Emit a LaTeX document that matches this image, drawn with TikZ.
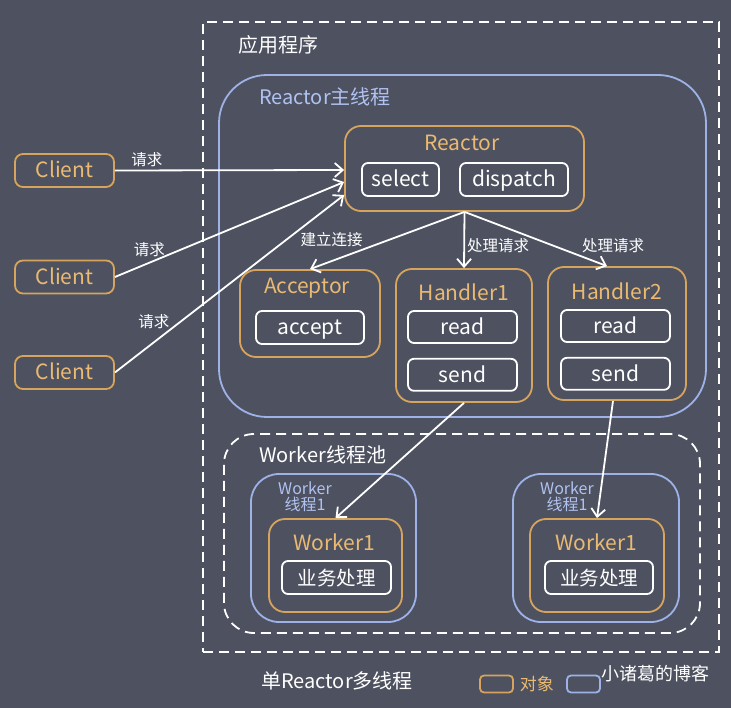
\documentclass[tikz,border=0pt]{standalone}
\usepackage{fontspec}
\setmainfont{Noto Sans CJK SC}
\usepackage{tikz}
\usetikzlibrary{arrows.meta}
\usetikzlibrary{positioning}
\usepackage{xcolor}

\definecolor{slatebg}{RGB}{78,82,96}
\definecolor{objline}{RGB}{214,164,92}
\definecolor{objtext}{RGB}{234,186,114}
\definecolor{thrline}{RGB}{158,178,232}
\definecolor{thrtext}{RGB}{176,194,242}

\newcommand{\pxfont}[1]{\fontsize{#1pt}{#1pt}\selectfont}

\begin{document}
\begin{tikzpicture}[x=1pt,y=-1pt,->,>={Straight Barb[length=8pt,width=14pt]},line width=1.8pt,
  every edge/.append style={draw=white},
  dashframe/.style={draw=white,dash pattern=on 10pt off 6pt,inner sep=0pt},
  thread/.style={draw=thrline,inner sep=0pt},
  object/.style={draw=objline,rounded corners=16pt,inner sep=0pt},
  client/.style={draw=objline,rounded corners=8pt,text=objtext,font=\pxfont{21},
    minimum width=99pt,minimum height=33pt,inner sep=0pt,text height=15pt,text depth=0pt},
  op/.style={draw=white,rounded corners=6pt,text=white,font=\pxfont{21},
    minimum height=33pt,inner sep=0pt,text height=15pt,text depth=0pt},
  objtitle/.style={text=objtext,font=\pxfont{21}},
  thrlabel/.style={text=thrtext,font=\pxfont{16},align=center,inner sep=0pt},
  request/.style={text=white,font=\pxfont{15.5},inner sep=1pt}]

 % background, same size as the reference
 \fill[slatebg] (0,0) rectangle (731,708);
 \useasboundingbox (0,0) rectangle (731,708);

 % the application (dashed frame)
 \node[dashframe,minimum width=516pt,minimum height=630pt] (AppFrame) at (461,337) {};
 \node[anchor=west,text=white,font=\pxfont{20}] (AppTitle) at (234,45) {应用程序};

 % Reactor main thread
 \node[thread,rounded corners=48pt,minimum width=487pt,minimum height=342pt] (MainThread) at (462.5,246) {};
 \node[anchor=west,text=thrtext,font=\pxfont{20}] (MainTitle) at (255,97) {Reactor主线程};

 % Reactor with select / dispatch
 \node[object,minimum width=239pt,minimum height=85pt] (Reactor) at (464.5,168.5) {};
 \node[objtitle] (ReactorTitle) at (462,143) {Reactor};
 \node[op,minimum width=77pt] (Select) at (400.5,179.5) {select};
 \node[op,minimum width=108pt] (Dispatch) at (514,179.5) {dispatch};

 % Acceptor
 \node[object,minimum width=140pt,minimum height=87pt] (Acceptor) at (310,313.5) {};
 \node[objtitle] (AcceptorTitle) at (307,288) {Acceptor};
 \node[op,minimum width=108pt] (Accept) at (310,327.5) {accept};

 % Handler1 and Handler2
 \node[object,minimum width=136pt,minimum height=133pt] (Handler1) at (464,335.5) {};
 \node[objtitle] (H1Title) at (464,292) {Handler1};
 \node[op,minimum width=109pt,minimum height=32pt] (H1Read) at (462.5,327) {read};
 \node[op,minimum width=109pt,minimum height=32pt,below=14pt of H1Read] (H1Send) {send};

 \node[object,minimum width=138pt,minimum height=133pt] (Handler2) at (617,333.5) {};
 \node[objtitle] (H2Title) at (617,291) {Handler2};
 \node[op,minimum width=109pt,minimum height=32pt] (H2Read) at (615.5,326) {read};
 \node[op,minimum width=109pt,minimum height=32pt,below=14pt of H2Read] (H2Send) {send};

 % clients on the left
 \node[client] (Client1) at (64.5,170.5) {Client};
 \node[client] (Client2) at (64.5,277) {Client};
 \node[client] (Client3) at (64.5,372.5) {Client};

 % Worker thread pool (dashed)
 \node[dashframe,rounded corners=30pt,minimum width=476pt,minimum height=199pt] (Pool) at (462,533.5) {};
 \node[anchor=west,text=white,font=\pxfont{20}] (PoolTitle) at (255,455) {Worker线程池};

 % worker thread, left
 \node[thread,rounded corners=28pt,minimum width=165pt,minimum height=148pt] (ThreadA) at (333.5,548) {};
 \node[thrlabel] (ThreadALbl) at (305,497) {Worker\\线程1};
 \node[object,minimum width=133pt,minimum height=93pt] (WorkA) at (335.5,565.5) {};
 \node[objtitle] (WorkATitle) at (334,542) {Worker1};
 \node[op,minimum width=109pt,font=\pxfont{19.5}] (BizA) at (336.5,577.5) {业务处理};

 % worker thread, right
 \node[thread,rounded corners=28pt,minimum width=166pt,minimum height=148pt] (ThreadB) at (596,548) {};
 \node[thrlabel] (ThreadBLbl) at (567,497) {Worker\\线程1};
 \node[object,minimum width=134pt,minimum height=93pt] (WorkB) at (597,565.5) {};
 \node[objtitle] (WorkBTitle) at (596,542) {Worker1};
 \node[op,minimum width=108pt,font=\pxfont{19.5}] (BizB) at (599,577.5) {业务处理};

 % caption and legend
 \node[anchor=west,text=white,font=\pxfont{20}] (Caption) at (257,681) {单Reactor多线程};
 \node[draw=objline,rounded corners=4pt,minimum width=33pt,minimum height=17pt,inner sep=0pt] (LegObj) at (496.5,684) {};
 \node[right=5pt of LegObj,text=objtext,font=\pxfont{17},inner sep=0pt] (LegObjTxt) {对象};
 \node[draw=thrline,rounded corners=4pt,minimum width=33pt,minimum height=17pt,inner sep=0pt] (LegThr) at (583.5,684) {};
 \node[text=white,font=\pxfont{18}] (Mark) at (655,674) {小诸葛的博客};

 % requests from the clients
 \path (Client1.east) edge node[request,pos=.14,above=2pt] {请求} ([yshift=-1.5pt]Reactor.west);
 \path (Client2.east) edge node[request,pos=.15,above=4pt] {请求} ([yshift=-13.5pt]Reactor.west);
 \path (Client3.east) edge node[request,pos=.17,above=12pt] {请求} ([yshift=-26.5pt]Reactor.west);

 % dispatch to acceptor and handlers
 \path (Reactor.south) edge node[request,pos=.86,above=12pt] {建立连接} (Acceptor.north);
 \path (Reactor.south) edge node[request,pos=.6,right=1pt] {处理请求} (Handler1.north);
 \path (Reactor.south) edge node[request,pos=1,above=11pt,xshift=6pt] {处理请求} ([xshift=-10pt]Handler2.north);

 % handlers pass work to the worker threads
 \path (Handler1.south) edge (WorkA.north);
 \path ([xshift=-4pt]Handler2.south) edge (WorkB.north);

\end{tikzpicture}
\end{document}
